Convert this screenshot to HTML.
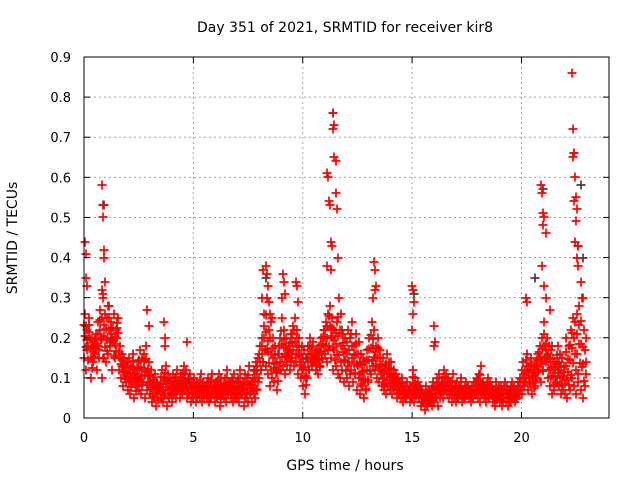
<!DOCTYPE html>
<html><head><meta charset="utf-8"><style>
body{margin:0;background:#fff}
svg text{font-family:"DejaVu Sans","Liberation Sans",sans-serif;font-size:13px;fill:#000}
svg text.big{font-size:14px}
</style></head><body>
<svg id="chart" width="640" height="480" xmlns="http://www.w3.org/2000/svg">
<rect width="640" height="480" fill="#fff"/>
<text class="big" x="345" y="32" text-anchor="middle">Day 351 of 2021, SRMTID for receiver kir8</text>
<text class="big" x="345" y="470" text-anchor="middle">GPS time / hours</text>
<text class="big" transform="translate(17,238) rotate(-90)" text-anchor="middle">SRMTID / TECUs</text>
<g id="grid"></g><g id="marks"></g><g id="axes"></g>
</svg>
<script>
const yTicks=[0,0.1,0.2,0.3,0.4,0.5,0.6,0.7,0.8,0.9];
const yTickLabels=["0","0.1","0.2","0.3","0.4","0.5","0.6","0.7","0.8","0.9"];
const xTicks=[0,5,10,15,20];
const xTickLabels=["0","5","10","15","20"];
const bulkLow=[.15,.12,.18,.10,.14,.16,.12,.17,.10,.15, .14,.16,.18,.12,.15,.20,.12,.10,.08,.09, .07,.06,.09,.05,.08,.07,.06,.09,.05,.07, .06,.04,.05,.03,.07,.05,.04,.06,.03,.05, .04,.06,.05,.07,.05,.06,.08,.05,.06,.04, .05,.04,.06,.05,.04,.06,.05,.04,.05,.06, .04,.05,.03,.06,.05,.04,.06,.05,.04,.05, .05,.04,.06,.03,.05,.04,.06,.04,.05,.07, .10,.12,.14,.13,.11,.08,.10,.09,.07,.12, .12,.13,.11,.14,.12,.15,.13,.14,.11,.10, .08,.06,.10,.12,.13,.14,.12,.11,.13,.15, .16,.14,.18,.15,.12,.13,.11,.10,.12,.09, .10,.08,.12,.09,.11,.07,.06,.08,.05,.07, .09,.11,.13,.12,.10,.09,.08,.07,.06,.08, .07,.06,.08,.05,.06,.05,.04,.05,.06,.04, .05,.04,.06,.05,.03,.04,.02,.03,.04,.03, .04,.05,.03,.06,.05,.07,.06,.05,.04,.05, .04,.05,.06,.04,.05,.06,.05,.04,.05,.06, .05,.04,.06,.05,.04,.05,.06,.04,.03,.05, .04,.03,.05,.04,.03,.04,.05,.04,.05,.06, .06,.08,.10,.07,.09,.06,.08,.10,.12,.09, .12,.14,.10,.08,.06,.07,.09,.08,.06,.07, .06,.05,.07,.10,.08,.06,.09,.07,.05,.08];
const bulkHigh=[.26,.22,.25,.20,.19,.21,.24,.27,.30,.26, .25,.28,.24,.26,.22,.25,.18,.16,.15,.14, .15,.13,.16,.12,.14,.17,.15,.16,.18,.14, .12,.10,.11,.09,.08,.12,.10,.13,.11,.10, .11,.10,.12,.09,.11,.13,.12,.10,.11,.09, .10,.09,.08,.11,.09,.08,.10,.09,.11,.08, .09,.11,.10,.08,.10,.12,.09,.10,.11,.09, .10,.12,.09,.11,.10,.13,.09,.12,.14,.15, .18,.20,.26,.30,.22,.24,.20,.18,.16,.20, .25,.22,.20,.18,.21,.23,.25,.22,.20,.18, .17,.15,.18,.20,.19,.16,.17,.18,.20,.22, .24,.26,.28,.25,.22,.24,.30,.26,.21,.20, .22,.20,.24,.18,.21,.19,.16,.15,.14,.17, .20,.24,.22,.18,.20,.17,.15,.13,.16,.14, .14,.12,.11,.10,.09,.10,.08,.09,.07,.08, .12,.10,.09,.08,.07,.06,.08,.07,.06,.09, .08,.10,.11,.09,.12,.11,.10,.09,.11,.08, .09,.08,.10,.07,.09,.08,.07,.08,.09,.10, .11,.13,.09,.08,.10,.09,.08,.07,.09,.08, .08,.07,.09,.08,.07,.09,.08,.07,.09,.10, .14,.12,.16,.13,.15,.12,.14,.16,.18,.20, .24,.20,.18,.17,.15,.14,.18,.16,.15,.13, .20,.18,.22,.25,.24,.26,.28,.30,.22,.20];
const bulkTimes=bulkLow.map((v,i)=>i/10);
const spikeTimes=[0.05,0.08,0.1,0.15,0.82,0.85,0.88,0.9,0.9,0.95,0.8,0.85,1.1,2.9,2.95,3.65,3.7,3.72,4.7,8.2,8.3,8.35,8.4,8.45,8.5,8.15,8.6,9.1,9.15,9.2,9.05,9.7,9.75,9.8,11.1,11.15,11.2,11.25,11.3,11.35,11.4,11.4,11.45,11.45,11.5,11.5,11.55,11.6,11.1,11.3,13.25,13.3,13.35,13.3,13.2,15.0,15.05,15.1,15.05,15.0,16.0,16.05,16.0,20.2,20.25,20.9,20.95,21.0,21.05,21.0,21.1,20.95,21.05,21.1,21.3,22.3,22.35,22.4,22.35,22.45,22.5,22.4,22.55,22.5,22.45,22.6,22.55,22.6,22.7,22.8];
const spikeVals=[0.44,0.41,0.35,0.33,0.58,0.53,0.50,0.42,0.40,0.34,0.32,0.31,0.28,0.27,0.23,0.24,0.20,0.18,0.19,0.37,0.38,0.36,0.33,0.29,0.26,0.30,0.25,0.36,0.34,0.31,0.30,0.34,0.33,0.29,0.61,0.60,0.54,0.53,0.44,0.43,0.76,0.72,0.73,0.65,0.64,0.56,0.52,0.40,0.38,0.37,0.39,0.37,0.33,0.32,0.30,0.33,0.32,0.29,0.26,0.22,0.23,0.19,0.18,0.30,0.29,0.58,0.56,0.51,0.50,0.48,0.46,0.38,0.33,0.30,0.27,0.86,0.72,0.66,0.65,0.60,0.55,0.54,0.52,0.49,0.44,0.43,0.40,0.38,0.34,0.30];
const darkTimes=[0.1,0.6,1.3,2.4,3.2,4.5,5.6,6.8,7.9,8.3,9.4,10.2,11.4,11.8,12.6,13.6,14.3,15.1,16.5,17.8,18.8,19.6,20.6,21.0,21.4,22.4,22.6,22.7,22.8,0.9];
const darkVals=[0.23,0.18,0.2,0.1,0.08,0.07,0.06,0.07,0.12,0.35,0.16,0.15,0.76,0.22,0.14,0.12,0.07,0.31,0.08,0.06,0.05,0.06,0.35,0.57,0.18,0.66,0.43,0.58,0.40,0.53];
const L=84,R=609,T=57,B=418,XMAX=24,YMAX=0.9;
const xs=v=>L+v/XMAX*(R-L), ys=v=>B-v/YMAX*(B-T);
const NS="http://www.w3.org/2000/svg";
function mk(tag,attrs,parent){const e=document.createElementNS(NS,tag);for(const k in attrs)e.setAttribute(k,attrs[k]);parent.appendChild(e);return e;}
const grid=document.getElementById('grid'),marks=document.getElementById('marks'),axes=document.getElementById('axes');
yTicks.forEach((v,i)=>{const y=ys(v);
 if(i>0&&i<yTicks.length-1){const g=mk('line',{x1:L,x2:R,y1:y,y2:y,stroke:'#a0a0a0','stroke-dasharray':'2,3'},grid);
 
 }
 mk('line',{x1:L,x2:L+6,y1:y,y2:y,stroke:'#000'},axes);mk('line',{x1:R-6,x2:R,y1:y,y2:y,stroke:'#000'},axes);
 const t=mk('text',{x:L-13,y:y+5,'text-anchor':'end'},axes);t.textContent=yTickLabels[i];
 
 });
xTicks.forEach((v,i)=>{const x=xs(v);
 if(i>0){const g=mk('line',{x1:x,x2:x,y1:T,y2:B,stroke:'#a0a0a0','stroke-dasharray':'2,3'},grid);
 
 }
 mk('line',{x1:x,x2:x,y1:B,y2:B-6,stroke:'#000'},axes);mk('line',{x1:x,x2:x,y1:T,y2:T+6,stroke:'#000'},axes);
 const t=mk('text',{x:x,y:442,'text-anchor':'middle'},axes);t.textContent=xTickLabels[i];
 
 });
const frame=mk('rect',{x:L,y:T,width:R-L,height:B-T,fill:'none',stroke:'#000'},axes);


function plus(t,v,color,name){const x=Math.round(xs(t)),y=Math.round(ys(v));
 const p=mk('path',{d:`M${x-4.5} ${y}H${x+4.5}M${x} ${y-4.5}V${y+4.5}`,stroke:color,'stroke-width':1.7,fill:'none'},marks);
 
 }
darkTimes.forEach((t,i)=>plus(t,darkVals[i],'#404040','dark-point'));
bulkTimes.forEach((t,i)=>{const lo=bulkLow[i],hi=bulkHigh[i];
 plus(t,lo,'#ff0000','srmtid-point');
 plus(t+0.05,hi,'#ff0000','srmtid-point');
 plus(t+0.03,(lo+hi)/2,'#ff0000','srmtid-point');
 plus(t+0.07,lo+(hi-lo)*0.25,'#ff0000','srmtid-point');
 plus(t+0.02,lo+(hi-lo)*0.75,'#ff0000','srmtid-point');});
spikeTimes.forEach((t,i)=>plus(t,spikeVals[i],'#ff0000','srmtid-spike-point'));
</script>
</body></html>
